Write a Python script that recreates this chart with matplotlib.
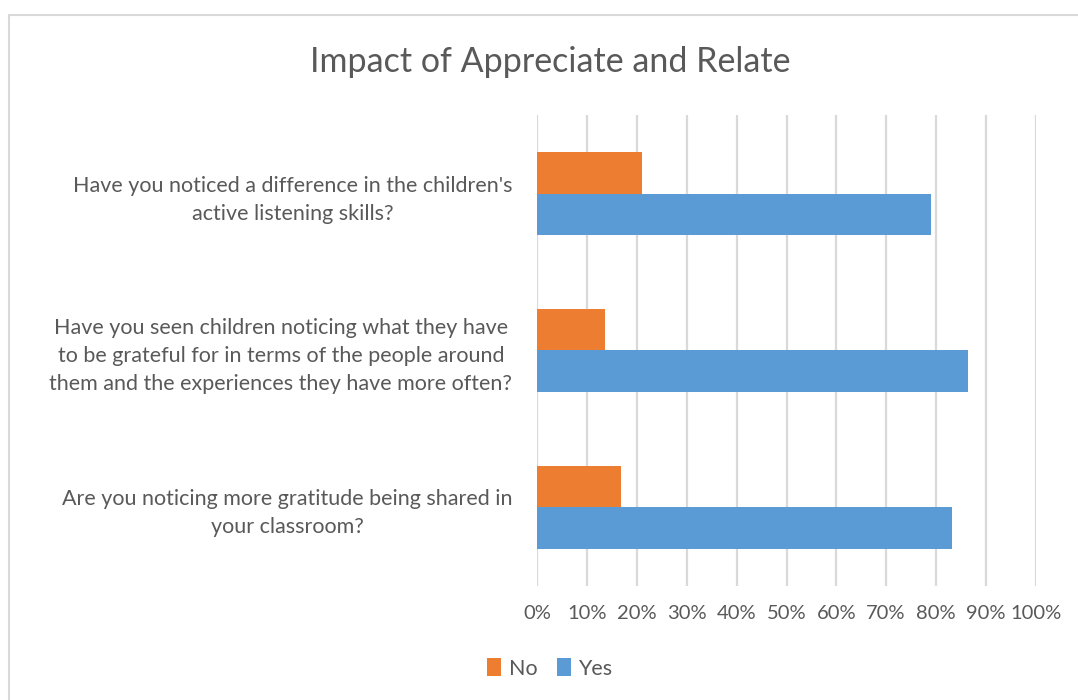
import numpy as np
import matplotlib
matplotlib.use("Agg")
import matplotlib.pyplot as plt
from matplotlib.patches import Rectangle

plt.rcParams["font.family"] = ["Lato", "DejaVu Sans"]

# Survey results (percent of responses)
questions = [
    "Have you noticed a difference in the children's\nactive listening skills?",
    "Have you seen children noticing what they have\nto be grateful for in terms of the people around\nthem and the experiences they have more often?",
    "Are you noticing more gratitude being shared in\nyour classroom?",
]
no_pct = [21.05, 13.6, 16.7]
yes_pct = [78.95, 86.4, 83.3]

x_ticks = list(range(0, 101, 10))
x_tick_labels = [f"{t}%" for t in x_ticks]

text_color = "#595959"
grid_color = "#d9d9d9"
orange = "#ED7D31"
blue = "#5B9BD5"

fig = plt.figure(figsize=(10.78, 7.0), dpi=100)
ax = fig.add_axes([0.4986, 0.1629, 0.462, 0.6728])

y = np.arange(len(questions))
h = 0.262
ax.barh(y - h / 2, no_pct, height=h, color=orange, label="No", zorder=3)
ax.barh(y + h / 2, yes_pct, height=h, color=blue, label="Yes", zorder=3)

ax.set_xlim(0, 100)
ax.set_ylim(2.5, -0.5)
ax.set_xticks(x_ticks)
ax.set_xticklabels(x_tick_labels, fontsize=14.5, color=text_color)
ax.set_yticks(y)
ax.set_yticklabels(questions, fontsize=15.5, color=text_color,
                   ha="right", multialignment="center", linespacing=1.5)
ax.tick_params(axis="y", length=0, pad=18)
ax.tick_params(axis="x", length=0, pad=14)
ax.xaxis.grid(True, color=grid_color, linewidth=1.6, zorder=0)
for side in ax.spines.values():
    side.set_visible(False)

fig.text(0.51, 0.912, "Impact of Appreciate and Relate", ha="center", va="center",
         fontsize=24.5, color=text_color)

leg = fig.legend(loc="center", bbox_to_anchor=(0.51, 0.045), ncol=2, frameon=False,
                 fontsize=15.5, handlelength=0.65, handleheight=0.9, handletextpad=0.35,
                 columnspacing=0.9)
for t in leg.get_texts():
    t.set_color(text_color)

# outer chart border
fig.patches.append(Rectangle((0.0084, -0.1), 1.2, 0.1 + 0.979, transform=fig.transFigure,
                             fill=False, edgecolor=grid_color, linewidth=1.5))

fig.savefig("out.png", dpi=100)
